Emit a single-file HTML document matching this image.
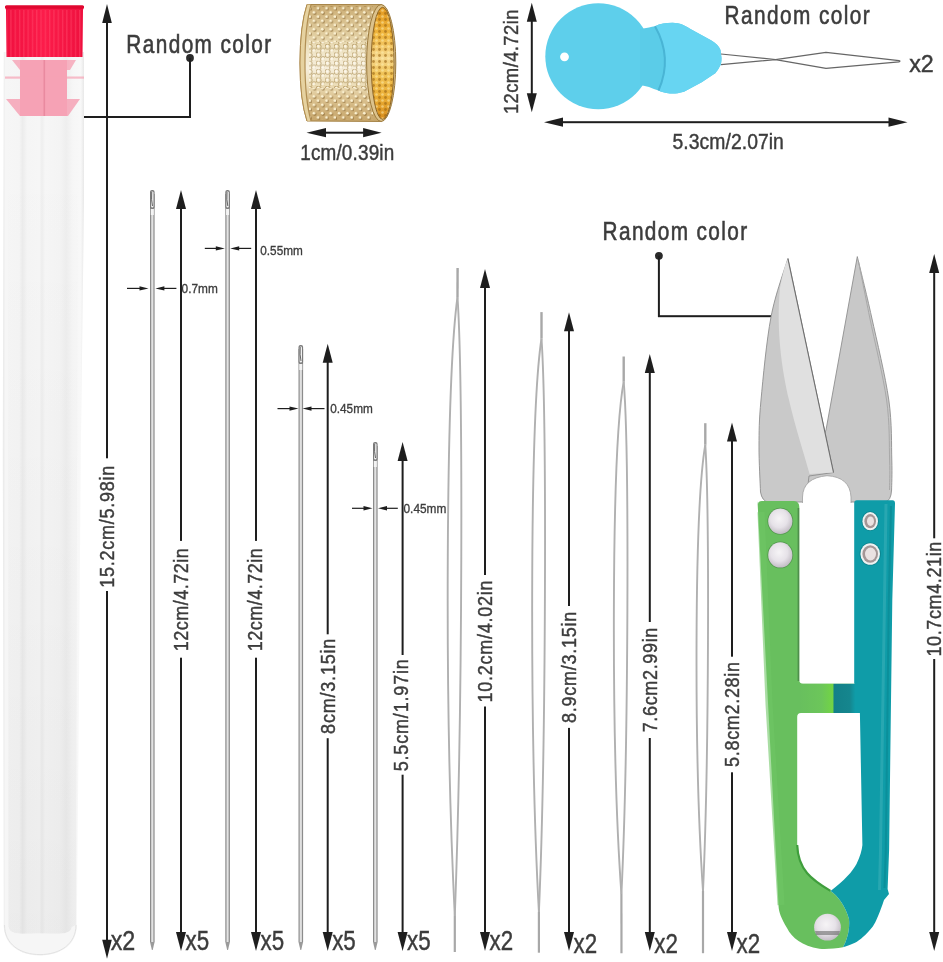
<!DOCTYPE html>
<html><head><meta charset="utf-8"><style>
html,body{margin:0;padding:0;background:#fff;}
body{width:943px;height:962px;overflow:hidden;}
svg{display:block;font-family:"Liberation Sans",sans-serif;will-change:transform;}
text{stroke:#3e3e3e;stroke-width:0.45px;}
</style></head><body>
<svg width="943" height="962" viewBox="0 0 943 962">
<rect width="943" height="962" fill="#fff"/>
<defs>
<linearGradient id="tubeG" gradientUnits="userSpaceOnUse" x1="3" x2="84" y1="0" y2="0">
 <stop offset="0" stop-color="#e9e9e9"/>
 <stop offset="0.03" stop-color="#f6f6f6"/>
 <stop offset="0.2" stop-color="#f5f5f5"/>
 <stop offset="0.24" stop-color="#ececec"/>
 <stop offset="0.3" stop-color="#f5f5f5"/>
 <stop offset="0.45" stop-color="#f6f6f6"/>
 <stop offset="0.48" stop-color="#eeeeee"/>
 <stop offset="0.52" stop-color="#f6f6f6"/>
 <stop offset="0.7" stop-color="#f4f4f4"/>
 <stop offset="0.78" stop-color="#eeeeee"/>
 <stop offset="0.86" stop-color="#f6f6f6"/>
 <stop offset="0.96" stop-color="#f8f8f8"/>
 <stop offset="1" stop-color="#e8e8e8"/>
</linearGradient>
<linearGradient id="capG" x1="0" x2="1" y1="0" y2="0">
 <stop offset="0" stop-color="#f0103f"/>
 <stop offset="0.5" stop-color="#fc1c4a"/>
 <stop offset="1" stop-color="#ee103e"/>
</linearGradient>
<pattern id="ribs" x="6" y="0" width="4.3" height="60" patternUnits="userSpaceOnUse">
 <rect x="0" y="0" width="1.3" height="60" fill="#ff4a6c" opacity="0.5"/>
</pattern>
<linearGradient id="goldG" x1="0" x2="1" y1="0" y2="0">
 <stop offset="0" stop-color="#c9a868"/>
 <stop offset="0.12" stop-color="#e8d3a0"/>
 <stop offset="0.35" stop-color="#f3e6c4"/>
 <stop offset="0.6" stop-color="#e2c88e"/>
 <stop offset="1" stop-color="#c7a25a"/>
</linearGradient>
<linearGradient id="goldIn" x1="0" x2="1" y1="0" y2="0">
 <stop offset="0" stop-color="#e6b64a"/>
 <stop offset="0.5" stop-color="#f4cf6a"/>
 <stop offset="1" stop-color="#d9a940"/>
</linearGradient>
<pattern id="dimp" x="0" y="0" width="9" height="9" patternUnits="userSpaceOnUse">
 <circle cx="2.2" cy="2.2" r="1.6" fill="#b08a45" opacity="0.55"/>
 <circle cx="6.7" cy="6.7" r="1.6" fill="#b08a45" opacity="0.55"/>
</pattern>
<pattern id="dimpIn" x="0" y="0" width="7" height="7" patternUnits="userSpaceOnUse">
 <circle cx="2" cy="2" r="1.4" fill="#b8862a" opacity="0.5"/>
 <circle cx="5.5" cy="5.5" r="1.4" fill="#fff3c0" opacity="0.5"/>
</pattern>
<linearGradient id="bladeL" x1="0" x2="1" y1="0" y2="0">
 <stop offset="0" stop-color="#c4c4c4"/>
 <stop offset="1" stop-color="#cfcfcf"/>
</linearGradient>
<linearGradient id="greenG" x1="0" x2="1" y1="0" y2="0">
 <stop offset="0" stop-color="#5fc55a"/>
 <stop offset="0.5" stop-color="#66cc5e"/>
 <stop offset="1" stop-color="#52b84c"/>
</linearGradient>
<linearGradient id="tealG" x1="0" x2="1" y1="0" y2="0">
 <stop offset="0" stop-color="#1e9aa6"/>
 <stop offset="0.5" stop-color="#22a8b3"/>
 <stop offset="1" stop-color="#1a929e"/>
</linearGradient>
<linearGradient id="barG" x1="0" x2="1" y1="0" y2="0">
 <stop offset="0" stop-color="#68bf5e"/>
 <stop offset="0.4" stop-color="#6cc65a"/>
 <stop offset="0.6" stop-color="#72d444"/>
 <stop offset="0.62" stop-color="#138088"/>
 <stop offset="0.9" stop-color="#15868e"/>
 <stop offset="1" stop-color="#0f9ca8"/>
</linearGradient>
<radialGradient id="rivetG" cx="0.45" cy="0.4" r="0.7">
 <stop offset="0" stop-color="#f6f4f6"/>
 <stop offset="0.5" stop-color="#e6e2e8"/>
 <stop offset="0.85" stop-color="#c4bec6"/>
 <stop offset="1" stop-color="#a29ca4"/>
</radialGradient>
</defs>
<path d="M3.8 52 L84 52 L84 200 L80.8 450 L78.5 750 L76.8 925 C76.8 945 60 955.4 40 955.4 C20 955.4 3.8 945 3.8 925 L2.8 450 Z" fill="url(#tubeG)"/>
<defs><linearGradient id="tubeShade" gradientUnits="userSpaceOnUse" x1="0" x2="0" y1="150" y2="935"><stop offset="0" stop-color="#000" stop-opacity="0"/><stop offset="0.55" stop-color="#000" stop-opacity="0.02"/><stop offset="1" stop-color="#000" stop-opacity="0.04"/></linearGradient></defs>
<path d="M8 120 L78 120 L76 925 L72 927 C70 936 56 933.5 40 933.5 C24 933.5 10 936 8.5 927 Z" fill="url(#tubeShade)"/>
<path d="M3.8 925 C3.8 945 20 955.4 40 955.4 C60 955.4 76.8 945 76.8 925 L72 927 C70 936 56 933.5 40 933.5 C24 933.5 10 936 8.5 927 Z" fill="#f6f6f6"/>
<path d="M4.5 925 C4.5 944 20 954.6 40 954.6 C60 954.6 76 944 76 925" fill="none" stroke="#e2e2e2" stroke-width="1"/>
<g fill="#f6a2b5"><path d="M12 60 L76 60 L70 70 L20 70Z" opacity="0.8"/><rect x="20" y="60" width="47" height="56"/><path d="M6 99 L80 99 L68 116 L20 116Z" opacity="0.85"/><rect x="5" y="76.5" width="79" height="2.2" opacity="0.7"/></g>
<rect x="43.5" y="60" width="1.6" height="56" fill="#e98aa0"/>
<path d="M5 6 L84 6 L83 10 L82.5 57 L6.5 57 L6 10Z" fill="url(#capG)"/>
<rect x="7" y="10" width="75" height="47" fill="url(#ribs)"/>
<rect x="5" y="5.3" width="79" height="3.5" rx="1.5" fill="#e00830"/>
<text transform="translate(126.30 52.70) scale(0.8,1)" x="0" y="0" font-size="26" fill="#3c3c3c" textLength="181.2" lengthAdjust="spacing" style="stroke-width:0.6px">Random color</text>
<circle cx="190" cy="58" r="3.9" fill="#2a2a2a"/>
<rect x="189.00" y="58.00" width="2" height="59.80" fill="#1e1e1e"/>
<rect x="84.00" y="116.00" width="107.00" height="2" fill="#1e1e1e"/>
<rect x="106.00" y="20.00" width="2" height="438.30" fill="#1e1e1e"/>
<rect x="106.00" y="591.00" width="2" height="354.00" fill="#1e1e1e"/>
<path d="M107 4 L111.8 23 L102.2 23Z" fill="#1e1e1e"/>
<path d="M107 958.8 L111.8 939.8 L102.2 939.8Z" fill="#1e1e1e"/>
<text transform="translate(114.20 526.75) rotate(-90) scale(0.88,1)" x="0" y="0" font-size="20.5" text-anchor="middle" fill="#3c3c3c" textLength="138.8" lengthAdjust="spacing">15.2cm/5.98in</text>
<text x="110.70" y="950.00" font-size="27" fill="#3c3c3c" textLength="24.6" lengthAdjust="spacingAndGlyphs" >x2</text>
<rect x="150.00" y="194" width="4.6" height="748" fill="#8c8c8c"/>
<rect x="151.10" y="194" width="2.3999999999999995" height="748" fill="#d2d2d2"/>
<rect x="151.90" y="194" width="0.8" height="748" fill="#e8e8e8"/>
<path d="M150.00 942 L154.60 942 L152.70000000000002 950 L151.9 950Z" fill="#9a9a9a"/>
<rect x="150.00" y="190" width="4.6" height="19" rx="2" fill="#7a7a7a"/>
<rect x="151.10" y="191.5" width="2.3999999999999995" height="16" rx="1" fill="#f2f2f2"/>
<path d="M151.70 192 Q151.10 200 152.50 206" fill="none" stroke="#555" stroke-width="0.9"/>
<rect x="150.80" y="209" width="2.9999999999999996" height="6" fill="#f4f4f4"/>
<rect x="225.30" y="194" width="4.6" height="748" fill="#8c8c8c"/>
<rect x="226.40" y="194" width="2.3999999999999995" height="748" fill="#d2d2d2"/>
<rect x="227.20" y="194" width="0.8" height="748" fill="#e8e8e8"/>
<path d="M225.30 942 L229.90 942 L228.0 950 L227.2 950Z" fill="#9a9a9a"/>
<rect x="225.30" y="190" width="4.6" height="19" rx="2" fill="#7a7a7a"/>
<rect x="226.40" y="191.5" width="2.3999999999999995" height="16" rx="1" fill="#f2f2f2"/>
<path d="M227.00 192 Q226.40 200 227.80 206" fill="none" stroke="#555" stroke-width="0.9"/>
<rect x="226.10" y="209" width="2.9999999999999996" height="6" fill="#f4f4f4"/>
<rect x="298.50" y="349" width="4.6" height="593" fill="#8c8c8c"/>
<rect x="299.60" y="349" width="2.3999999999999995" height="593" fill="#d2d2d2"/>
<rect x="300.40" y="349" width="0.8" height="593" fill="#e8e8e8"/>
<path d="M298.50 942 L303.10 942 L301.2 950 L300.40000000000003 950Z" fill="#9a9a9a"/>
<rect x="298.50" y="345" width="4.6" height="19" rx="2" fill="#7a7a7a"/>
<rect x="299.60" y="346.5" width="2.3999999999999995" height="16" rx="1" fill="#f2f2f2"/>
<path d="M300.20 347 Q299.60 355 301.00 361" fill="none" stroke="#555" stroke-width="0.9"/>
<rect x="299.30" y="364" width="2.9999999999999996" height="6" fill="#f4f4f4"/>
<rect x="373.00" y="446" width="4.6" height="496" fill="#8c8c8c"/>
<rect x="374.10" y="446" width="2.3999999999999995" height="496" fill="#d2d2d2"/>
<rect x="374.90" y="446" width="0.8" height="496" fill="#e8e8e8"/>
<path d="M373.00 942 L377.60 942 L375.7 950 L374.90000000000003 950Z" fill="#9a9a9a"/>
<rect x="373.00" y="442" width="4.6" height="19" rx="2" fill="#7a7a7a"/>
<rect x="374.10" y="443.5" width="2.3999999999999995" height="16" rx="1" fill="#f2f2f2"/>
<path d="M374.70 444 Q374.10 452 375.50 458" fill="none" stroke="#555" stroke-width="0.9"/>
<rect x="373.80" y="461" width="2.9999999999999996" height="6" fill="#f4f4f4"/>
<path d="M457.6 268 L457.5 297" stroke="#a8a8a8" stroke-width="2.4" fill="none"/>
<path d="M457.5 297 C446 380 444 700 454.8 916" stroke="#b0b0b0" stroke-width="1.9" fill="none"/>
<path d="M457.5 297 C463 380 463 700 454.8 916" stroke="#b0b0b0" stroke-width="1.9" fill="none"/>
<path d="M454.8 916 L454.8 952" stroke="#a8a8a8" stroke-width="2.1999999999999997" fill="none"/>
<path d="M541.5 312.1 L541.5 338.5" stroke="#a8a8a8" stroke-width="2.4" fill="none"/>
<path d="M541.5 338.5 C529 420 530 750 538.9 912" stroke="#b0b0b0" stroke-width="1.9" fill="none"/>
<path d="M541.5 338.5 C547 420 546 750 538.9 912" stroke="#b0b0b0" stroke-width="1.9" fill="none"/>
<path d="M538.9 912 L538.9 952.7" stroke="#a8a8a8" stroke-width="2.1999999999999997" fill="none"/>
<path d="M623.7 356.5 L623.7 381.7" stroke="#a8a8a8" stroke-width="2.4" fill="none"/>
<path d="M623.7 381.7 C611 450 611 750 621.4 894" stroke="#b0b0b0" stroke-width="1.9" fill="none"/>
<path d="M623.7 381.7 C629.5 450 628.5 750 621.4 894" stroke="#b0b0b0" stroke-width="1.9" fill="none"/>
<path d="M621.4 894 L621.5 953.2" stroke="#a8a8a8" stroke-width="2.1999999999999997" fill="none"/>
<path d="M705.3 423.2 L705.3 444.7" stroke="#a8a8a8" stroke-width="2.4" fill="none"/>
<path d="M705.3 444.7 C694 510 694 760 703 891" stroke="#b0b0b0" stroke-width="1.9" fill="none"/>
<path d="M705.3 444.7 C709.5 510 709 760 703 891" stroke="#b0b0b0" stroke-width="1.9" fill="none"/>
<path d="M703 891 L703 953.2" stroke="#a8a8a8" stroke-width="2.1999999999999997" fill="none"/>
<path d="M181 190 L186 209 L176 209Z" fill="#1e1e1e"/>
<rect x="180.00" y="200.00" width="2" height="340.90" fill="#1e1e1e"/>
<rect x="180.00" y="657.70" width="2" height="283.30" fill="#1e1e1e"/>
<path d="M181 951 L186 932 L176 932Z" fill="#1e1e1e"/>
<text transform="translate(188.00 599.80) rotate(-90) scale(0.88,1)" x="0" y="0" font-size="20.5" text-anchor="middle" fill="#3c3c3c" textLength="117.0" lengthAdjust="spacing">12cm/4.72in</text>
<text x="185.50" y="950.00" font-size="27" fill="#3c3c3c" textLength="23.6" lengthAdjust="spacingAndGlyphs" >x5</text>
<path d="M256 190 L261 209 L251 209Z" fill="#1e1e1e"/>
<rect x="255.00" y="200.00" width="2" height="340.90" fill="#1e1e1e"/>
<rect x="255.00" y="657.70" width="2" height="283.30" fill="#1e1e1e"/>
<path d="M256 951 L261 932 L251 932Z" fill="#1e1e1e"/>
<text transform="translate(261.70 599.80) rotate(-90) scale(0.88,1)" x="0" y="0" font-size="20.5" text-anchor="middle" fill="#3c3c3c" textLength="117.0" lengthAdjust="spacing">12cm/4.72in</text>
<text x="260.50" y="950.00" font-size="27" fill="#3c3c3c" textLength="23.6" lengthAdjust="spacingAndGlyphs" >x5</text>
<path d="M327.7 343.7 L332.7 362.7 L322.7 362.7Z" fill="#1e1e1e"/>
<rect x="326.70" y="353.70" width="2" height="280.60" fill="#1e1e1e"/>
<rect x="326.70" y="738.20" width="2" height="202.80" fill="#1e1e1e"/>
<path d="M327.7 951 L332.7 932 L322.7 932Z" fill="#1e1e1e"/>
<text transform="translate(334.70 686.30) rotate(-90) scale(0.88,1)" x="0" y="0" font-size="20.5" text-anchor="middle" fill="#3c3c3c" textLength="108.2" lengthAdjust="spacing">8cm/3.15in</text>
<text x="332.20" y="950.00" font-size="27" fill="#3c3c3c" textLength="23.6" lengthAdjust="spacingAndGlyphs" >x5</text>
<path d="M402.6 441.9 L407.6 460.9 L397.6 460.9Z" fill="#1e1e1e"/>
<rect x="401.60" y="451.90" width="2" height="203.10" fill="#1e1e1e"/>
<rect x="401.60" y="774.70" width="2" height="166.30" fill="#1e1e1e"/>
<path d="M402.6 951 L407.6 932 L397.6 932Z" fill="#1e1e1e"/>
<text transform="translate(408.40 715.25) rotate(-90) scale(0.88,1)" x="0" y="0" font-size="20.5" text-anchor="middle" fill="#3c3c3c" textLength="127.4" lengthAdjust="spacing">5.5cm/1.97in</text>
<text x="407.10" y="950.00" font-size="27" fill="#3c3c3c" textLength="23.6" lengthAdjust="spacingAndGlyphs" >x5</text>
<path d="M485 269 L490 288 L480 288Z" fill="#1e1e1e"/>
<rect x="484.00" y="279.00" width="2" height="296.00" fill="#1e1e1e"/>
<rect x="484.00" y="706.50" width="2" height="234.50" fill="#1e1e1e"/>
<path d="M485 951 L490 932 L480 932Z" fill="#1e1e1e"/>
<text transform="translate(492.00 641.55) rotate(-90) scale(0.88,1)" x="0" y="0" font-size="20.5" text-anchor="middle" fill="#3c3c3c" textLength="138.8" lengthAdjust="spacing">10.2cm/4.02in</text>
<text x="489.50" y="950.00" font-size="27" fill="#3c3c3c" textLength="23.6" lengthAdjust="spacingAndGlyphs" >x2</text>
<path d="M569 312.2 L574 331.2 L564 331.2Z" fill="#1e1e1e"/>
<rect x="568.00" y="322.20" width="2" height="283.80" fill="#1e1e1e"/>
<rect x="568.00" y="727.90" width="2" height="213.10" fill="#1e1e1e"/>
<path d="M569 951 L574 932 L564 932Z" fill="#1e1e1e"/>
<text transform="translate(576.00 667.35) rotate(-90) scale(0.88,1)" x="0" y="0" font-size="20.5" text-anchor="middle" fill="#3c3c3c" textLength="126.5" lengthAdjust="spacing">8.9cm/3.15in</text>
<text x="573.50" y="953.30" font-size="27" fill="#3c3c3c" textLength="23.6" lengthAdjust="spacingAndGlyphs" >x2</text>
<path d="M649.8 354 L654.8 373 L644.8 373Z" fill="#1e1e1e"/>
<rect x="648.80" y="364.00" width="2" height="258.00" fill="#1e1e1e"/>
<rect x="648.80" y="738.00" width="2" height="203.00" fill="#1e1e1e"/>
<path d="M649.8 951 L654.8 932 L644.8 932Z" fill="#1e1e1e"/>
<text transform="translate(656.80 680.00) rotate(-90) scale(0.88,1)" x="0" y="0" font-size="20.5" text-anchor="middle" fill="#3c3c3c" textLength="118.9" lengthAdjust="spacing">7.6cm2.99in</text>
<text x="654.30" y="953.30" font-size="27" fill="#3c3c3c" textLength="23.6" lengthAdjust="spacingAndGlyphs" >x2</text>
<path d="M732 422.5 L737 441.5 L727 441.5Z" fill="#1e1e1e"/>
<rect x="731.00" y="432.50" width="2" height="224.20" fill="#1e1e1e"/>
<rect x="731.00" y="772.30" width="2" height="168.70" fill="#1e1e1e"/>
<path d="M732 951 L737 932 L727 932Z" fill="#1e1e1e"/>
<text transform="translate(739.00 714.45) rotate(-90) scale(0.88,1)" x="0" y="0" font-size="20.5" text-anchor="middle" fill="#3c3c3c" textLength="119.2" lengthAdjust="spacing">5.8cm2.28in</text>
<text x="736.50" y="953.30" font-size="27" fill="#3c3c3c" textLength="23.6" lengthAdjust="spacingAndGlyphs" >x2</text>
<path d="M934.2 253.9 L939.2 272.9 L929.2 272.9Z" fill="#1e1e1e"/>
<rect x="933.20" y="264.00" width="2" height="274.30" fill="#1e1e1e"/>
<rect x="933.20" y="659.00" width="2" height="281.00" fill="#1e1e1e"/>
<path d="M934.2 951 L939.2 932 L929.2 932Z" fill="#1e1e1e"/>
<text transform="translate(941.20 599.10) rotate(-90) scale(0.88,1)" x="0" y="0" font-size="20.5" text-anchor="middle" fill="#3c3c3c" textLength="130.5" lengthAdjust="spacing">10.7cm4.21in</text>
<rect x="127.00" y="287.80" width="15.50" height="1.2" fill="#1e1e1e"/>
<path d="M148.5 288.4 L139.5 286.2 L139.5 290.59999999999997Z" fill="#1e1e1e"/>
<rect x="161.40" y="287.80" width="15.00" height="1.2" fill="#1e1e1e"/>
<path d="M155.4 288.4 L164.4 286.2 L164.4 290.59999999999997Z" fill="#1e1e1e"/>
<text x="181.60" y="292.90" font-size="13.6" fill="#3c3c3c" textLength="36.2" lengthAdjust="spacingAndGlyphs" style="stroke-width:0.35px">0.7mm</text>
<rect x="204.80" y="247.80" width="14.00" height="1.2" fill="#1e1e1e"/>
<path d="M224.8 248.4 L215.8 246.20000000000002 L215.8 250.6Z" fill="#1e1e1e"/>
<rect x="236.20" y="247.80" width="15.00" height="1.2" fill="#1e1e1e"/>
<path d="M230.2 248.4 L239.2 246.20000000000002 L239.2 250.6Z" fill="#1e1e1e"/>
<text x="260.30" y="254.50" font-size="13.6" fill="#3c3c3c" textLength="42.5" lengthAdjust="spacingAndGlyphs" style="stroke-width:0.35px">0.55mm</text>
<rect x="277.50" y="408.00" width="15.00" height="1.2" fill="#1e1e1e"/>
<path d="M298.5 408.6 L289.5 406.40000000000003 L289.5 410.8Z" fill="#1e1e1e"/>
<rect x="308.50" y="408.00" width="16.00" height="1.2" fill="#1e1e1e"/>
<path d="M302.5 408.6 L311.5 406.40000000000003 L311.5 410.8Z" fill="#1e1e1e"/>
<text x="330.20" y="413.10" font-size="13.6" fill="#3c3c3c" textLength="42.6" lengthAdjust="spacingAndGlyphs" style="stroke-width:0.35px">0.45mm</text>
<rect x="352.00" y="507.70" width="14.50" height="1.2" fill="#1e1e1e"/>
<path d="M372.5 508.3 L363.5 506.1 L363.5 510.5Z" fill="#1e1e1e"/>
<rect x="384.00" y="507.70" width="13.80" height="1.2" fill="#1e1e1e"/>
<path d="M378 508.3 L387 506.1 L387 510.5Z" fill="#1e1e1e"/>
<text x="403.50" y="512.80" font-size="13.6" fill="#3c3c3c" textLength="42.8" lengthAdjust="spacingAndGlyphs" style="stroke-width:0.35px">0.45mm</text>
<defs>
<linearGradient id="thV" gradientUnits="userSpaceOnUse" x1="0" x2="0" y1="4" y2="121">
 <stop offset="0" stop-color="#c9aa70"/>
 <stop offset="0.12" stop-color="#d6bd8a"/>
 <stop offset="0.28" stop-color="#e2cfa2"/>
 <stop offset="0.4" stop-color="#f0e5c6"/>
 <stop offset="0.55" stop-color="#f6eedb"/>
 <stop offset="0.68" stop-color="#eee0bc"/>
 <stop offset="0.8" stop-color="#dbc290"/>
 <stop offset="1" stop-color="#c6a56a"/>
</linearGradient>
<linearGradient id="thIn" x1="0" x2="0" y1="0" y2="1">
 <stop offset="0" stop-color="#e39a22"/>
 <stop offset="0.25" stop-color="#efb63e"/>
 <stop offset="0.45" stop-color="#f6d88e"/>
 <stop offset="0.6" stop-color="#f0c255"/>
 <stop offset="0.8" stop-color="#eaad34"/>
 <stop offset="1" stop-color="#d88e1e"/>
</linearGradient>
<pattern id="dotsA" x="1" y="2" width="8.4" height="8.4" patternUnits="userSpaceOnUse">
 <circle cx="2.9" cy="2.9" r="1.8" fill="#7a5520" opacity="0.5"/>
 <circle cx="2.1" cy="2.1" r="1.35" fill="#fff6d8" opacity="0.95"/>
 <circle cx="7.1" cy="7.1" r="1.8" fill="#7a5520" opacity="0.5"/>
 <circle cx="6.3" cy="6.3" r="1.35" fill="#fff6d8" opacity="0.95"/>
</pattern>
<pattern id="dimB" x="1" y="2" width="9" height="8.4" patternUnits="userSpaceOnUse">
 <circle cx="2.6" cy="2.6" r="2.6" fill="none" stroke="#9a7a3c" stroke-width="0.9" opacity="0.6"/>
 <circle cx="2.2" cy="2.2" r="1.2" fill="#fffaf0" opacity="0.8"/>
 <circle cx="7.1" cy="6.8" r="2.6" fill="none" stroke="#9a7a3c" stroke-width="0.9" opacity="0.6"/>
 <circle cx="6.7" cy="6.4" r="1.2" fill="#fffaf0" opacity="0.8"/>
</pattern>
<pattern id="dimpIn2" x="0" y="0" width="6" height="6" patternUnits="userSpaceOnUse">
 <circle cx="1.5" cy="1.5" r="1.4" fill="#9a6410" opacity="0.6"/>
 <circle cx="4.5" cy="4.5" r="1.3" fill="#fff2b8" opacity="0.5"/>
</pattern>
<clipPath id="thClip"><path d="M307 4.5 L381.5 4.5 L381.5 121.5 L307 121 Q300 100 300 63 Q300 26 307 4.5Z"/></clipPath>
</defs>
<path d="M307 4.5 L381.5 4.5 L381.5 121.5 L307 121 Q300 100 300 63 Q300 26 307 4.5Z" fill="url(#thV)" stroke="#a8864a" stroke-width="1"/>
<g clip-path="url(#thClip)">
<rect x="309" y="6" width="64" height="36" fill="url(#dotsA)"/>
<rect x="309" y="42" width="64" height="46" fill="url(#dimB)"/>
<rect x="309" y="88" width="64" height="32" fill="url(#dotsA)"/>
</g>
<path d="M307 4.5 Q300 26 300 63 Q300 100 307 121 L311 120.8 Q305 100 305 63 Q305 26 311 4.7Z" fill="#e6d2a0"/>
<path d="M311 4.7 Q305 26 305 63 Q305 100 311 120.8" fill="none" stroke="#a88446" stroke-width="1.2" opacity="0.85"/>
<path d="M307 4.5 Q300 26 300 63 Q300 100 307 121" fill="none" stroke="#b08c4e" stroke-width="1"/>
<ellipse cx="381.2" cy="63" rx="14.6" ry="58.5" fill="#dcc28c" stroke="#9c7a3c" stroke-width="1"/>
<ellipse cx="382.6" cy="63.3" rx="11.4" ry="56" fill="url(#thIn)" stroke="#8a6428" stroke-width="1"/>
<ellipse cx="382.6" cy="63.3" rx="11" ry="55.5" fill="url(#dimpIn2)"/>
<rect x="316.00" y="131.70" width="56.00" height="2" fill="#1e1e1e"/>
<path d="M306.5 132.7 L326.0 128.1 L326.0 137.29999999999998Z" fill="#1e1e1e"/>
<path d="M381.6 132.7 L363.1 128.1 L363.1 137.29999999999998Z" fill="#1e1e1e"/>
<text transform="translate(300.20 159.50) scale(0.88,1)" x="0" y="0" font-size="21.5" fill="#3c3c3c" textLength="106.9" lengthAdjust="spacing" >1cm/0.39in</text>
<circle cx="598.3" cy="56.2" r="53" fill="#5ecfeb"/>
<path d="M640 29 Q645 28 649 27.5 Q652 26.8 655 26.3 C660 23.5 666 22.8 672.5 22.8 C680 23 685 25.5 690 28.7 L711 40.3 C716 43.5 719 46 720.5 50 L721.5 58 C721.5 62 721 64.5 720 66 C718 70 716 72 715.6 73 L701.7 82.3 L684 91.7 C678 93.5 674 93.6 670 93.4 C665 93 661 92 658.5 90.5 Q654 89 649 87 Q645 86 640 85 Z" fill="#5bcce8"/>
<path d="M655 26.3 C660 23.5 666 22.8 672.5 22.8 C680 23 685 25.5 690 28.7 L711 40.3 C716 43.5 719 46 720.5 50 L721.5 58 C721.5 62 721 64.5 720 66 C718 70 716 72 715.6 73 L701.7 82.3 L684 91.7 C678 93.5 674 93.6 670 93.4 C665 93 661 92 658.5 90.5 Q672 58 655 26.3Z" fill="#67d5f2"/>
<path d="M655 26.3 Q673 58 658.5 90.5" fill="none" stroke="#44afd0" stroke-width="2" opacity="0.85"/>
<circle cx="564.5" cy="56.8" r="4.4" fill="#fff"/>
<path d="M721 54 L775.5 59.6 L826 68.3 L899 61.8 Q901 61 899 60.6 L826 52.3 L775.5 59.6 L721 64.6" fill="none" stroke="#666" stroke-width="1.25" stroke-linejoin="round"/>
<text x="909.20" y="71.50" font-size="24" fill="#3c3c3c" textLength="24.6" lengthAdjust="spacingAndGlyphs" >x2</text>
<text transform="translate(724.50 23.60) scale(0.8,1)" x="0" y="0" font-size="26" fill="#3c3c3c" textLength="181.5" lengthAdjust="spacing" style="stroke-width:0.6px">Random color</text>
<path d="M531.8 2.7 L536.8 21.7 L526.8 21.7Z" fill="#1e1e1e"/>
<rect x="530.80" y="12.00" width="2" height="91.00" fill="#1e1e1e"/>
<path d="M531.8 112.2 L536.8 93.2 L526.8 93.2Z" fill="#1e1e1e"/>
<text transform="translate(518 61.8) rotate(-90) scale(0.88,1)" font-size="21" text-anchor="middle" fill="#3c3c3c" textLength="118.9" lengthAdjust="spacing">12cm/4.72in</text>
<rect x="554.00" y="121.20" width="344.00" height="2" fill="#1e1e1e"/>
<path d="M544 122.2 L563 117.60000000000001 L563 126.8Z" fill="#1e1e1e"/>
<path d="M907.5 122.2 L888.5 117.60000000000001 L888.5 126.8Z" fill="#1e1e1e"/>
<text transform="translate(672.50 148.50) scale(0.88,1)" x="0" y="0" font-size="22" fill="#3c3c3c" textLength="126.6" lengthAdjust="spacing" >5.3cm/2.07in</text>
<text transform="translate(602.60 239.60) scale(0.8,1)" x="0" y="0" font-size="26" fill="#3c3c3c" textLength="180.7" lengthAdjust="spacing" style="stroke-width:0.6px">Random color</text>
<circle cx="658.9" cy="255.8" r="3.9" fill="#2a2a2a"/>
<rect x="657.90" y="255.80" width="2" height="61.20" fill="#1e1e1e"/>
<rect x="658.00" y="315.20" width="113.30" height="2" fill="#1e1e1e"/>
<path d="M857.30 256.60 C859.68 266.67 866.35 293.10 871.60 317.00 C876.85 340.90 885.43 376.17 888.80 400.00 C892.17 423.83 891.33 445.00 891.80 460.00 C892.27 475.00 891.63 485.00 891.60 490.00 Q891 501 885 502 L806 502 L806 478 L826 430 Z" fill="#c8c8c8" stroke="#8f8f8f" stroke-width="0.9"/>
<path d="M858.60 262.00 C860.43 271.17 864.93 294.00 869.60 317.00 C874.27 340.00 883.27 376.17 886.60 400.00 C889.93 423.83 889.12 445.00 889.60 460.00 C890.08 475.00 889.52 485.00 889.50 490.00" fill="none" stroke="#a9a9a9" stroke-width="1"/>
<path d="M768 502 Q762 501 760.5 492 C760.25 484.33 758.92 461.33 759.00 446.00 C759.08 430.67 759.00 421.50 761.00 400.00 C763.00 378.50 766.52 340.57 771.00 317.00 C775.48 293.43 785.08 268.33 787.90 258.60 L833.5 472.5 L809 476 L806 502 Z" fill="#c9c9c9" stroke="#8f8f8f" stroke-width="0.9"/>
<path d="M787.9 258.6 Q783 270 780 288 C776 330 782 370 789 400 S803 450 809.6 474 L833.5 472.5 Z" fill="#e0e0e0"/>
<path d="M787.9 258.6 L833.5 472.5" fill="none" stroke="#6e6e6e" stroke-width="1.1"/>
<path d="M802.5 503 L802.5 497 Q803 478 827 475.7 Q850 477 851 497 L851 503 Z" fill="#fff"/>
<path d="M802.5 503 L802.5 497 Q803 478 827 475.7 Q850 477 851 497 L851 503" fill="none" stroke="#a0a0a0" stroke-width="0.8"/>
<path d="M758 504 Q758 501 762 501 L794 501 Q799.3 501.5 799.3 507 L799.3 680 Q799.3 683.8 803 683.8 L855 683.8 L855 713 L801 713 Q797.2 713 797.2 717 L797.2 845 C798 870 812 880 830.5 890.9 C838 896 845 905 849 919 C850 930 847 940 843 947.3 C835 948.6 826 949.5 819.4 948.8 C802 946 792 938 787 928 C781 918 779 912 778.6 907 L757.5 501 Z" fill="#68bf5e"/>
<path d="M797.2 845 C798 870 812 880 830.5 890.9" fill="none" stroke="#3f9e3c" stroke-width="2.2"/>
<path d="M761 512 L769 704 L781 905" fill="none" stroke="#70c766" stroke-width="7" opacity="0.6"/>
<path d="M798.4 508 L798.4 681" fill="none" stroke="#4f8f4c" stroke-width="1.6"/>
<path d="M854.2 503 Q854.2 500.3 857 500.3 L892.5 500.3 Q895 500.3 895 503.5 L892.3 600 L889.1 850 L887.6 889 L889 894 L884 900 C880 912 876 922 872.8 926.5 C866 935 860 940 855 942.8 C850 945 846 946.5 843 947.3 C847 940 850 930 849 919 C845 905 838 896 830.5 890.9 C845 880 852 872 856.5 864 C860 857 862 850 862.4 845 L859.9 713 L855 713 L855 683.8 L854.2 683.8 Z" fill="#0f9ca8"/>
<path d="M886 504 L884.5 600 L880.5 850 L879.5 890" fill="none" stroke="#2eaab3" stroke-width="3" opacity="0.8"/>
<path d="M891 506 L888.8 600 L885.8 850 L884.5 888" fill="none" stroke="#0a8a94" stroke-width="2" opacity="0.7"/>
<rect x="799.3" y="683.8" width="56" height="29.2" fill="url(#barG)"/>
<ellipse cx="780.3" cy="521.2" rx="12.9" ry="13.4" fill="#3f7a3e" opacity="0.55"/>
<ellipse cx="780.3" cy="521.2" rx="12.1" ry="12.7" fill="url(#rivetG)"/>
<ellipse cx="780.3" cy="554.9" rx="12.9" ry="13.4" fill="#3f7a3e" opacity="0.55"/>
<ellipse cx="780.3" cy="554.9" rx="12.1" ry="12.7" fill="url(#rivetG)"/>
<ellipse cx="870.2" cy="521.2" rx="8.6" ry="9.9" fill="#0b6f78" opacity="0.6"/>
<ellipse cx="870.2" cy="521.2" rx="7.8" ry="9.1" fill="#eef2f2"/>
<ellipse cx="870.2" cy="521.2" rx="5.8" ry="7.1" fill="#a49696"/>
<ellipse cx="870.5" cy="521.2" rx="3.5" ry="4.8" fill="#eae2e2"/>
<ellipse cx="870.2" cy="554" rx="10.600000000000001" ry="11.600000000000001" fill="#0b6f78" opacity="0.6"/>
<ellipse cx="870.2" cy="554" rx="9.8" ry="10.8" fill="#eef2f2"/>
<ellipse cx="870.2" cy="554" rx="7.800000000000001" ry="8.8" fill="#a49696"/>
<ellipse cx="870.5" cy="554" rx="5.500000000000001" ry="6.500000000000001" fill="#eae2e2"/>
<circle cx="827.5" cy="927.2" r="13.4" fill="url(#rivetG)"/>
<path d="M815 931 L840 931 L839 935 L816 935Z" fill="#6a6a6a" opacity="0.6"/>
</svg>
</body></html>
